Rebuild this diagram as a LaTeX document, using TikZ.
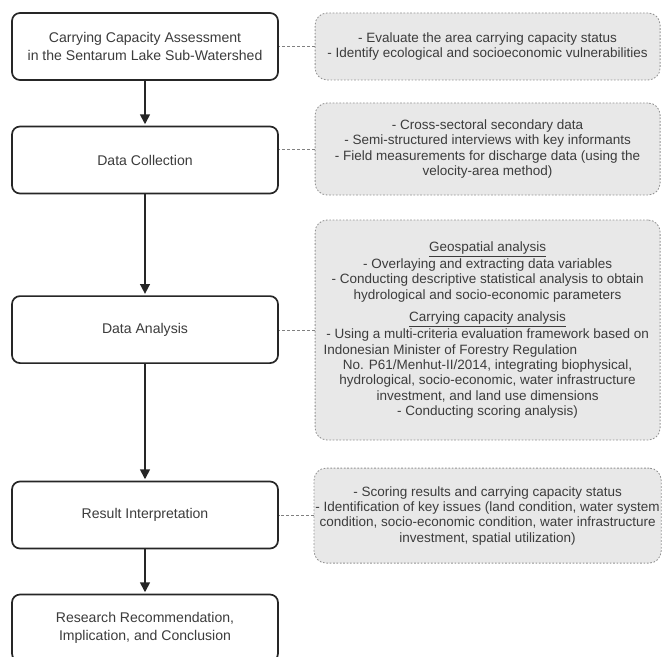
\documentclass[tikz,border=0pt]{standalone}
\usepackage{fontspec}
\setmainfont{Liberation Sans}
\usetikzlibrary{arrows.meta}
\definecolor{ccText}{HTML}{3C3C3C}
\begin{document}
\begin{tikzpicture}
\tikzset{
    ccStep/.style={rectangle,rounded corners=0.2cm,draw=black!85,line width=1.2pt,fill=white,minimum width=6.65cm,minimum height=1.675cm,align=center,text=ccText,font=\fontsize{10}{12.8}\selectfont},
    ccNote/.style={rectangle,rounded corners=0.3cm,draw=gray!85,dash pattern=on 1.2pt off 1.2pt,line width=0.6pt,fill=gray!18,minimum width=8.625cm,inner sep=1pt,align=center,text=ccText,font=\fontsize{9.6}{10.9}\selectfont},
    ccArrow/.style={-{Triangle[width=7pt,length=7pt]},line width=1.2pt,draw=black!85,shorten >=1pt},
    ccLink/.style={draw=gray,dash pattern=on 2pt off 1.5pt,line width=0.6pt},
}
\clip (0,0) rectangle (16.55,-16.4);

\node[ccStep] (s1) at (3.625,-1.1625) {Carrying Capacity Assessment\\in the Sentarum Lake Sub-Watershed};
\node[ccStep] (s2) at (3.625,-4.0) {Data Collection};
\node[ccStep] (s3) at (3.625,-8.24) {Data Analysis};
\node[ccStep] (s4) at (3.625,-12.875) {Result Interpretation};
\node[ccStep] (s5) at (3.625,-15.7) {Research Recommendation,\\Implication, and Conclusion};

\node[ccNote,minimum height=1.675cm] (n1) at (12.19,-1.1625) {- Evaluate the area carrying capacity status\\- Identify ecological and socioeconomic vulnerabilities};
\node[ccNote,minimum height=2.3cm] (n2) at (12.19,-3.725) {- Cross-sectoral secondary data\\- Semi-structured interviews with key informants\\- Field measurements for discharge data (using the\\velocity-area method)};
\node[ccNote,minimum height=5.5cm] (n3) at (12.19,-8.25) {\underline{Geospatial analysis}\\- Overlaying and extracting data variables\\- Conducting descriptive statistical analysis to obtain\\hydrological and socio-economic parameters\\[0.19cm]
    \underline{Carrying capacity analysis}\\- Using a multi-criteria evaluation framework based on\\\makebox[8.2cm][l]{Indonesian Minister of Forestry Regulation}\\No. P61/Menhut-II/2014, integrating biophysical,\\hydrological, socio-economic, water infrastructure\\investment, and land use dimensions\\- Conducting scoring analysis)};
\node[ccNote,minimum height=2.375cm] (n4) at (12.19,-12.89) {- Scoring results and carrying capacity status\\- Identification of key issues (land condition, water system\\condition, socio-economic condition, water infrastructure\\investment, spatial utilization)};

\foreach \a/\b in {s1/s2,s2/s3,s3/s4,s4/s5} {
    \draw[ccArrow] (\a) -- (\b);
}
\foreach \a/\b in {s1/n1,s2/n2,s3/n3,s4/n4} {
    \draw[ccLink] (\b.west) -- (\b.west -| \a.east);
}
\end{tikzpicture}
\end{document}
